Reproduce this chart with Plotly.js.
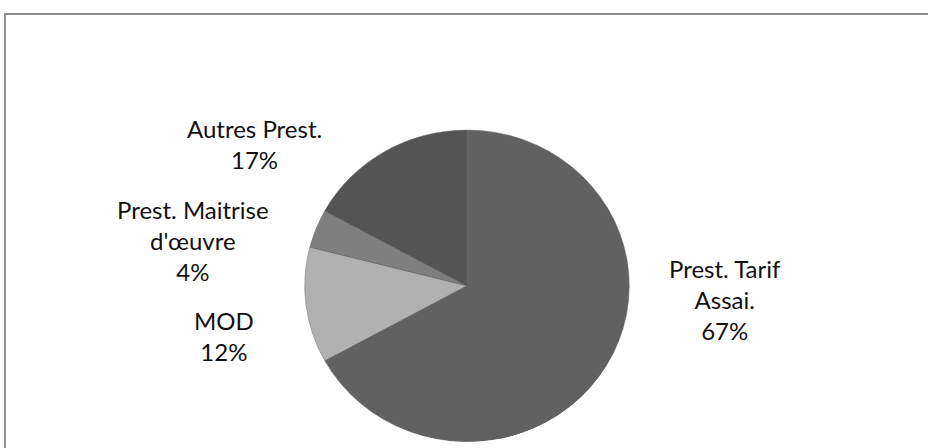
<!DOCTYPE html>
<html>
<head>
<meta charset="utf-8">
<script src="https://cdn.plot.ly/plotly-3.0.1.min.js"></script>
<style>html,body{margin:0;padding:0;background:#fff;}#chart{width:928px;height:448px;}</style>
</head>
<body>
<div id="chart"></div>
<script>
// Data
const labels = ["Prest. Tarif<br>Assai.", "MOD", "Prest. Maitrise<br>d'œuvre", "Autres Prest."];
const values = [67, 12, 4, 17];
const colors = ["#616161", "#b1b1b1", "#7f7f7f", "#545454"];

// Label placement (pixel centres) - layout only
const W = 928, H = 448;
const labelPos = [[725, 299], [224, 336], [193, 240], [255, 144]];

const total = values.reduce((a, b) => a + b, 0);
const cx = 467, cy = 286.5, r = 163, ry = 156.5;
const squash = ry / r;

function dom(cxp, cyp) {
  return {
    x: [(cxp - r) / W, (cxp + r) / W],
    y: [(H - cyp - r) / H, (H - cyp + r) / H]
  };
}

const shadow = {
  type: 'pie', values: values, labels: labels, sort: false, direction: 'clockwise',
  rotation: 0, textinfo: 'none', hoverinfo: 'skip', showlegend: false,
  marker: { colors: values.map(() => '#2b2b2b'), line: { width: 0 } },
  domain: dom(cx + 1, cy + 4)
};
const pie = {
  type: 'pie', values: values, labels: labels, sort: false, direction: 'clockwise',
  rotation: 0, textinfo: 'none', showlegend: false,
  marker: { colors: colors, line: { width: 0.5, color: '#6a6a6a' } },
  domain: dom(cx, cy)
};

const annotations = labels.map((l, i) => ({
  xref: 'paper', yref: 'paper',
  x: labelPos[i][0] / W, y: 1 - labelPos[i][1] / H,
  xanchor: 'center', yanchor: 'middle', showarrow: false,
  text: l + '<br>' + Math.round(values[i] / total * 100) + '%',
  font: { family: 'Lato, sans-serif', size: 24, color: '#111' },
  align: 'center'
}));

const layout = {
  width: W, height: H,
  margin: { l: 0, r: 0, t: 0, b: 0 },
  paper_bgcolor: '#fff',
  showlegend: false,
  annotations: annotations,
  shapes: [{
    type: 'rect', xref: 'paper', yref: 'paper',
    x0: 5 / W, x1: 1.05, y0: -0.05, y1: 1 - 14 / H,
    line: { color: '#8f8f8f', width: 2 }, layer: 'above'
  }]
};

Plotly.newPlot('chart', [shadow, pie], layout, { staticPlot: true }).then(gd => {
  const pl = gd.querySelector('.pielayer');
  if (pl) pl.setAttribute('transform', `translate(0, ${cy * (1 - squash)}) scale(1, ${squash})`);
});
</script>
</body>
</html>
